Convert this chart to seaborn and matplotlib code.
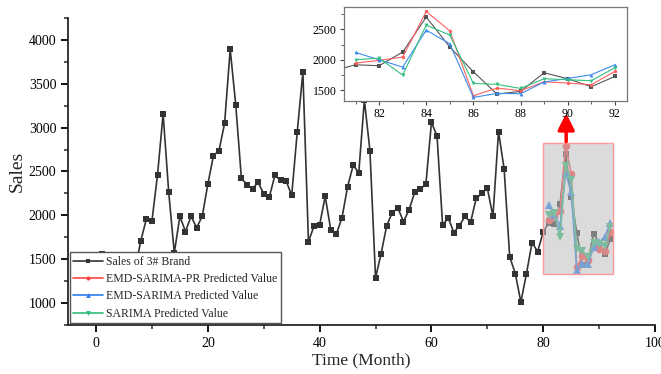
import matplotlib
matplotlib.use('Agg')
import matplotlib.pyplot as plt
import seaborn as sns
from matplotlib.patches import Rectangle
from matplotlib.ticker import MultipleLocator
from matplotlib.lines import Line2D

# ---------------- data ----------------
months = list(range(1, 93))
sales = [1565, 1480, 1350, 1280, 1420, 1300, 1380, 1708, 1958, 1935,
         2462, 3156, 2265, 1572, 1989, 1815, 1989, 1860, 1989, 2356,
         2678, 2739, 3049, 3894, 3253, 2424, 2349, 2303, 2378, 2242,
         2208, 2458, 2398, 2394, 2227, 2955, 3633, 1701, 1878, 1894,
         2216, 1830, 1788, 1974, 2326, 2572, 2485, 3314, 2735, 1288,
         1565, 1883, 2031, 2083, 1928, 2064, 2261, 2303, 2352, 3061,
         2905, 1886, 1974, 1803, 1883, 1989, 1920, 2193, 2250, 2310,
         1989, 2955, 2530, 1527, 1337, 1011, 1337, 1690, 1587, 1811,
         1918, 1902, 2126, 2700, 2208, 1803, 1437, 1481, 1787, 1689,
         1557, 1727]
pred_months = list(range(81, 93))
emd_sarima_pr = [1946, 1989, 2044, 2792, 2475, 1410, 1536, 1492, 1639, 1618, 1590, 1809]
emd_sarima = [2120, 2000, 1880, 2487, 2262, 1382, 1448, 1443, 1634, 1694, 1754, 1918]
sarima = [2000, 2027, 1749, 2568, 2405, 1612, 1596, 1530, 1689, 1672, 1656, 1869]

labels = ['Sales of 3# Brand', 'EMD-SARIMA-PR Predicted Value',
          'EMD-SARIMA Predicted Value', 'SARIMA Predicted Value']

# ---------------- style ----------------
sns.set_style('ticks')
plt.rcParams['font.family'] = ['Liberation Serif', 'DejaVu Serif']
plt.rcParams['axes.linewidth'] = 1.3

c_black = '#333333'
c_red = '#ff4545'
c_blue = '#2a7ff0'
c_green = '#2dbb7a'

fig = plt.figure(figsize=(6.61, 3.74), dpi=100)
ax = fig.add_axes([0.103, 0.131, 0.888, 0.821])

sns.lineplot(x=months, y=sales, ax=ax, color=c_black, lw=1.2, marker='s',
             markersize=4.2, markeredgewidth=0, zorder=3)
sns.lineplot(x=pred_months, y=emd_sarima_pr, ax=ax, color=c_red, lw=1.2, marker='o',
             markersize=5.5, markeredgewidth=0, zorder=3)
sns.lineplot(x=pred_months, y=emd_sarima, ax=ax, color=c_blue, lw=1.2, marker='^',
             markersize=5.5, markeredgewidth=0, zorder=3)
sns.lineplot(x=pred_months, y=sarima, ax=ax, color=c_green, lw=1.2, marker='v',
             markersize=5.5, markeredgewidth=0, zorder=3)

ax.add_patch(Rectangle((80, 1337), 12.5, 1490, facecolor=(0.75, 0.75, 0.75, 0.55),
                       edgecolor='#ff9a9a', lw=1.0, zorder=4))

ax.annotate('', xy=(84.1, 3165), xytext=(84.1, 2840),
            arrowprops=dict(arrowstyle='-|>,head_length=0.5,head_width=0.25',
                            color='red', lw=2.5, mutation_scale=20,
                            shrinkA=0, shrinkB=0),
            annotation_clip=False, zorder=6)

ax.set_xlim(-5, 100)
ax.set_ylim(750, 4250)
ax.xaxis.set_major_locator(MultipleLocator(20))
ax.xaxis.set_minor_locator(MultipleLocator(10))
ax.yaxis.set_minor_locator(MultipleLocator(250))
ax.set_yticks([1000, 1500, 2000, 2500, 3000, 3500, 4000])
ax.tick_params(which='major', direction='out', length=5, width=1.3, labelsize=10, colors='black')
ax.tick_params(which='minor', direction='out', length=3, width=1.1)
sns.despine(ax=ax)
ax.set_xlabel('Time (Month)', fontsize=12.5, labelpad=2)
ax.set_ylabel('Sales', fontsize=14, labelpad=2)

handles = [
    Line2D([], [], color=c_black, lw=1.2, marker='s', markersize=3, markeredgewidth=0),
    Line2D([], [], color=c_red, lw=1.2, marker='o', markersize=3, markeredgewidth=0),
    Line2D([], [], color=c_blue, lw=1.2, marker='^', markersize=3.5, markeredgewidth=0),
    Line2D([], [], color=c_green, lw=1.2, marker='v', markersize=3.5, markeredgewidth=0),
]
leg = ax.legend(handles, labels, loc='lower left', fontsize=8.5, frameon=True,
                framealpha=1, fancybox=False, edgecolor='#555555',
                handlelength=2.5, handletextpad=0.3, labelspacing=0.45,
                borderpad=0.3, borderaxespad=0.15)
leg.get_frame().set_linewidth(1.0)
leg.set_zorder(7)

# ---------------- inset ----------------
ins = fig.add_axes([0.520, 0.731, 0.428, 0.251])
ins_m = months[79:]
ins_s = sales[79:]
sns.lineplot(x=ins_m, y=ins_s, ax=ins, color='#555555', lw=0.8, marker='s',
             markersize=2.5, markeredgewidth=0)
sns.lineplot(x=pred_months, y=emd_sarima_pr, ax=ins, color='#ff6060', lw=0.8, marker='o',
             markersize=2.5, markeredgewidth=0)
sns.lineplot(x=pred_months, y=emd_sarima, ax=ins, color='#3a8cf0', lw=0.8, marker='^',
             markersize=2.8, markeredgewidth=0)
sns.lineplot(x=pred_months, y=sarima, ax=ins, color='#33c080', lw=0.8, marker='v',
             markersize=2.8, markeredgewidth=0)
ins.set_xlim(80.5, 92.5)
ins.set_ylim(1330, 2870)
ins.xaxis.set_major_locator(MultipleLocator(2))
ins.xaxis.set_minor_locator(MultipleLocator(1))
ins.yaxis.set_major_locator(MultipleLocator(500))
ins.yaxis.set_minor_locator(MultipleLocator(250))
ins.tick_params(which='major', direction='out', length=3, width=0.8, labelsize=8.5,
                colors='#444444', labelcolor='black', pad=2)
ins.tick_params(which='minor', direction='out', length=2, width=0.6, colors='#444444')
for s in ins.spines.values():
    s.set_color('#777777')
    s.set_linewidth(0.9)
ins.set_xlabel('')
ins.set_ylabel('')

fig.savefig('out.png', dpi=100)
